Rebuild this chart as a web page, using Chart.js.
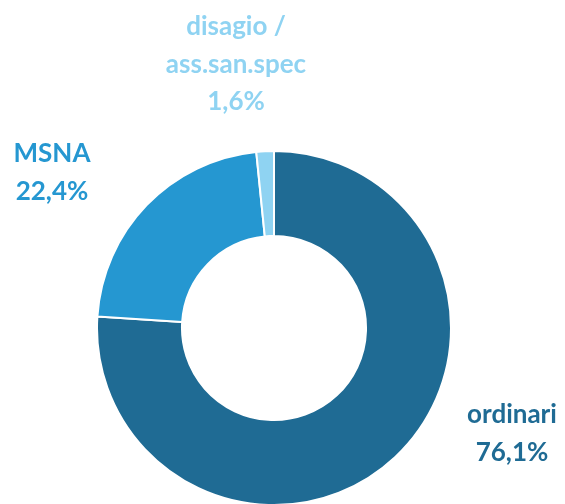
<!DOCTYPE html>
<html>
<head>
<meta charset="utf-8">
<script src="https://cdn.jsdelivr.net/npm/chart.js@4"></script>
<style>
  html, body { margin: 0; padding: 0; background: #fff; overflow: hidden; }
</style>
</head>
<body>
<canvas id="ring" width="565" height="506"></canvas>
<script>
// data
const categories = ['ordinari', 'MSNA', ['disagio /', 'ass.san.spec']];
const shares = [76.1, 22.4, 1.6];
const sliceColors = ['#1f6b94', '#2597d1', '#8fd3f2'];

// where each label sits, relative to the ring centre (first baseline)
const labelOffsets = [[238, 95], [-222, -166], [-38, -293]];

const outsideLabels = {
  id: 'outsideLabels',
  afterDraw(chart) {
    const ctx = chart.ctx;
    const meta = chart.getDatasetMeta(0);
    ctx.save();
    ctx.font = 'bold 26px Lato';
    ctx.textAlign = 'center';
    ctx.textBaseline = 'alphabetic';
    meta.data.forEach((arc, i) => {
      const { x, y } = arc.getProps(['x', 'y'], true);
      const name = chart.data.labels[i];
      const lines = (Array.isArray(name) ? name : [name]).concat(
        shares[i].toFixed(1).replace('.', ',') + '%');
      ctx.fillStyle = sliceColors[i];
      lines.forEach((line, k) => {
        ctx.fillText(line, x + labelOffsets[i][0], y + labelOffsets[i][1] + k * 37.5);
      });
    });
    ctx.restore();
  }
};

new Chart(document.getElementById('ring').getContext('2d'), {
  type: 'doughnut',
  data: {
    labels: categories,
    datasets: [{
      data: shares,
      backgroundColor: sliceColors,
      borderColor: '#ffffff',
      borderWidth: 2
    }]
  },
  options: {
    responsive: false,
    animation: false,
    cutout: '52%',
    layout: { padding: { left: 96, right: 113, top: 150, bottom: 0 } },
    plugins: {
      legend: { display: false },
      tooltip: { enabled: false }
    }
  },
  plugins: [outsideLabels]
});
</script>
</body>
</html>
